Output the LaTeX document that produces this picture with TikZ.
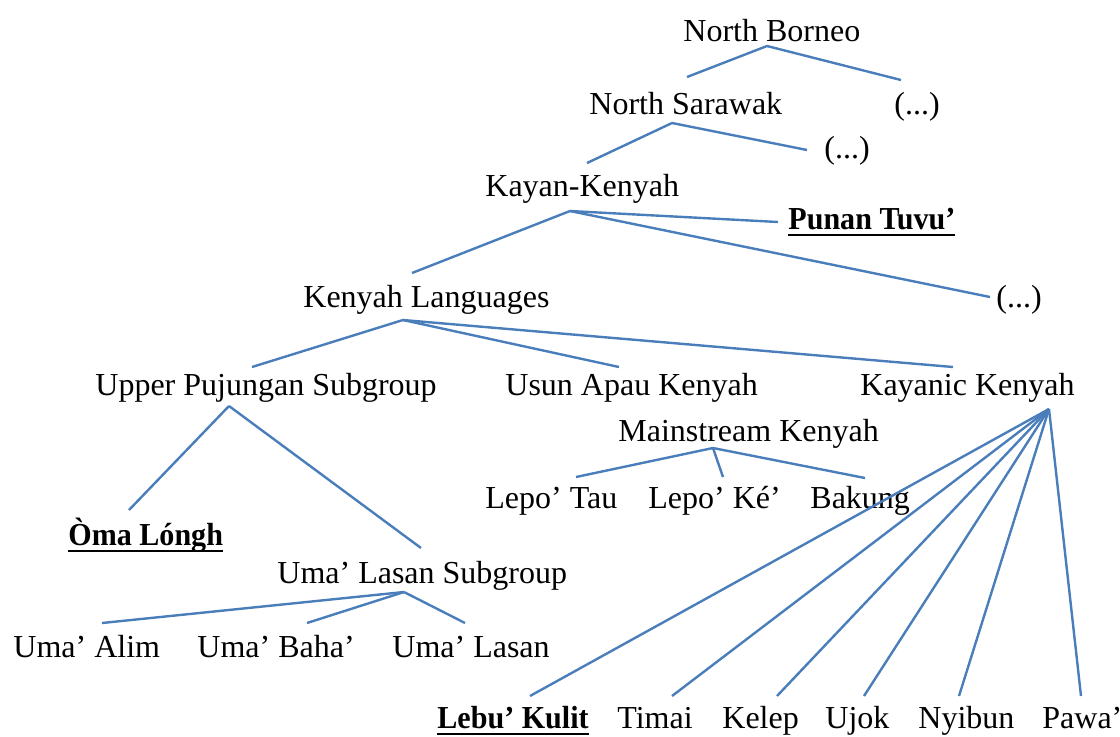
\documentclass[tikz,border=0pt]{standalone}
\usepackage{fontspec}
\setmainfont{Liberation Serif}
\usepackage{tikz}
\usetikzlibrary{positioning}
\definecolor{branchblue}{HTML}{4A7EBB}
\newcommand{\kenul}[1]{\setbox0\hbox{\scalebox{0.94}[1]{\bfseries #1}}\rlap{\rule[-3.5pt]{\wd0}{1pt}}\box0}
\tikzset{
  lang/.style={inner sep=0pt, anchor=base west},
  branch/.style={branchblue, line width=1.2pt}
}

\begin{document}
\begin{tikzpicture}[x=0.5pt, y=-0.5pt, font=\fontsize{16}{19}\selectfont]
        \useasboundingbox (0,0) rectangle (1120,736);

        % upper levels
        \node[lang] (nb) at (683,41) {North Borneo};
        \node[lang] (ns) at (589,114) {North Sarawak};
        \node[lang] (etc1) at (894,114) {(...)};
        \node[lang] (etc2) at (824,158) {(...)};
        \node[lang] (kk) at (485,196) {Kayan-Kenyah};
        \node[lang] (pt) at (788,229) {\kenul{Punan Tuvu’}};
        \node[lang] (kl) at (303,307) {Kenyah Languages};
        \node[lang] (etc3) at (996,307) {(...)};

        \node[lang] (up) at (95,395) {Upper Pujungan Subgroup};
        \node[lang] (ua) at (505,395) {Usun Apau Kenyah};
        \node[lang] (kay) at (860,395) {Kayanic Kenyah};

        \node[lang] (mk) at (618,441) {Mainstream Kenyah};
        \node[lang] (lt) at (485,508) {Lepo’ Tau};
        \node[lang] (lke) at (648,508) {Lepo’ Ké’};
        \node[lang] (bk) at (810,508) {Bakung};

        \node[lang] (ol) at (68,545) {\kenul{Òma Lóngh}};
        \node[lang] (uls) at (277,583) {Uma’ Lasan Subgroup};
        \node[lang] (ual) at (13,657) {Uma’ Alim};
        \node[lang] (ub) at (197,657) {Uma’ Baha’};
        \node[lang] (ula) at (392,657) {Uma’ Lasan};

        % Kayanic Kenyah children
        \node[lang] (lk) at (437,728) {\kenul{Lebu’ Kulit}};
        \node[lang] (ti) at (617,728) {Timai};
        \node[lang] (ke) at (722,728) {Kelep};
        \node[lang] (uj) at (825,728) {Ujok};
        \node[lang] (ny) at (918,728) {Nyibun};
        \node[lang] (pw) at (1042,728) {Pawa’};

        % branch points
        \coordinate (nb-j) at (767,46);
        \coordinate (ns-j) at (672,123);
        \coordinate (kk-j) at (570,211);
        \coordinate (kl-j) at (403,320);
        \coordinate (up-j) at (229,406);
        \coordinate (uls-j) at (404,592);
        \coordinate (mk-j) at (713,448);
        \coordinate (kay-j) at (1049,409);

        % line ends
        \coordinate (ns-e) at (687,77);
        \coordinate (etc1-e) at (901,80);
        \coordinate (kk-e) at (587,163);
        \coordinate (etc2-e) at (807,150);
        \coordinate (kl-e) at (412,273);
        \coordinate (pt-e) at (778,222);
        \coordinate (etc3-e) at (990,297);
        \coordinate (up-e) at (252,367);
        \coordinate (ua-e) at (619,367);
        \coordinate (kay-e) at (953,367);
        \coordinate (ol-e) at (129,510);
        \coordinate (uls-e) at (421,548);
        \coordinate (ual-e) at (102,623);
        \coordinate (ub-e) at (307,623);
        \coordinate (ula-e) at (465,623);
        \coordinate (lt-e) at (576,477);
        \coordinate (lke-e) at (723,477);
        \coordinate (bk-e) at (865,478);
        \foreach \n/\x in {lk/530, ti/672, ke/777, uj/864, ny/959, pw/1081}
        \coordinate (\n-e) at (\x,696);

        \foreach \n in {ns, etc1}
        \draw[branch] (nb-j) -- (\n-e);
        \foreach \n in {kk, etc2}
        \draw[branch] (ns-j) -- (\n-e);
        \foreach \n in {kl, pt, etc3}
        \draw[branch] (kk-j) -- (\n-e);
        \foreach \n in {up, ua, kay}
        \draw[branch] (kl-j) -- (\n-e);
        \foreach \n in {ol, uls}
        \draw[branch] (up-j) -- (\n-e);
        \foreach \n in {ual, ub, ula}
        \draw[branch] (uls-j) -- (\n-e);
        \foreach \n in {lt, lke, bk}
        \draw[branch] (mk-j) -- (\n-e);
        \foreach \n in {lk, ti, ke, uj, ny, pw}
        \draw[branch] (kay-j) -- (\n-e);

\end{tikzpicture}
\end{document}
